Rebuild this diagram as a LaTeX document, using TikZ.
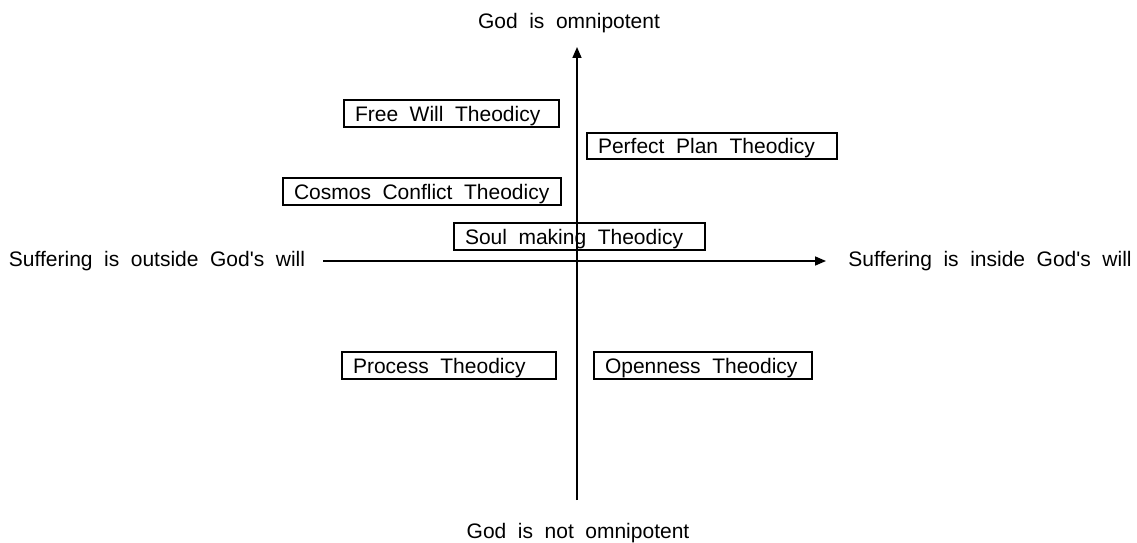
\documentclass[tikz,border=0pt]{standalone}
\usepackage{fontspec}
\newfontfamily\labelfont{Liberation Sans}
\usetikzlibrary{arrows.meta}
\newcommand\widespacing{\spaceskip=0.55em plus 0.1em\relax}
\begin{document}
\begin{tikzpicture}[x=1pt,y=-1pt,
  lbl/.style={font=\labelfont\fontsize{21}{24}\selectfont\widespacing,
    execute at begin node=\widespacing,
    text height=15pt, text depth=0pt},
  theory/.style={lbl, draw, line width=1.4pt, fill=white, inner xsep=11pt,
    inner ysep=0pt, align=left, minimum height=27pt},
  axis/.style={line width=1.6pt, -{Triangle[length=11pt,width=9pt]}}]
\useasboundingbox (0,0) rectangle (1137,543);
% axes
\coordinate (vb) at (577,500);
\coordinate (vt) at (577,47);
\coordinate (hl) at (323,261);
\coordinate (hr) at (826,261);
\draw[axis] (vb) -- (vt);
\draw[axis] (hl) -- (hr);
% axis labels
\node[lbl] (top) at (569,21) {God is omnipotent};
\node[lbl] (bot) at (578,531) {God is not omnipotent};
\node[lbl] (lft) at (157,259) {Suffering is outside God's will};
\node[lbl] (rgt) at (990,259) {Suffering is inside God's will};
% theodicies
\node[theory, text width=193pt] (fw) at (451.5,113.5) {Free Will Theodicy};
\node[theory, text width=228pt, minimum height=26pt] (pp) at (712,146) {Perfect Plan Theodicy};
\node[theory, text width=256pt] (cc) at (422,191.5) {Cosmos Conflict Theodicy};
\node[theory, text width=229pt, fill=none] (sm) at (579.5,236.5) {Soul making Theodicy};
\node[theory, text width=192pt] (pr) at (449,365.5) {Process Theodicy};
\node[theory, text width=196pt] (op) at (703,365.5) {Openness Theodicy};
\end{tikzpicture}
\end{document}
